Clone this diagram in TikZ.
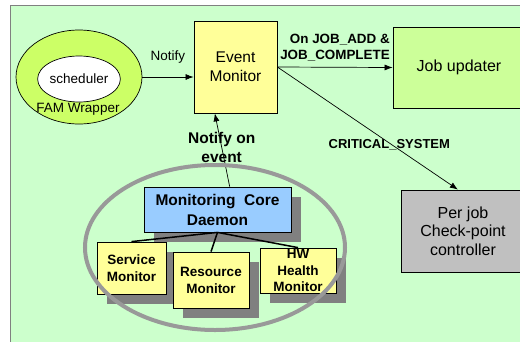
\documentclass[tikz,border=0pt]{standalone}
\usepackage{fontspec}
\setmainfont{Liberation Sans}
\usepackage{xcolor}
\usepackage{tikz}
\usetikzlibrary{shapes.geometric, arrows.meta, shadows}
\definecolor{bggreen}{RGB}{204,255,204}
\definecolor{famgreen}{RGB}{204,255,102}
\definecolor{jobgreen}{RGB}{204,255,153}
\definecolor{paleyellow}{RGB}{255,255,153}
\definecolor{coreblue}{RGB}{153,204,255}
\definecolor{ckgray}{RGB}{192,192,192}
\definecolor{shadowgray}{RGB}{128,128,128}
\definecolor{ringgray}{RGB}{153,153,153}

\begin{document}
\begin{tikzpicture}[x=1pt, y=-1pt,
    bx/.style={rectangle, draw=black, line width=0.8pt, inner sep=0pt, align=center},
    big/.style={font=\fontsize{15.5}{19}\selectfont},
    shd/.style={drop shadow={shadow xshift=10pt, shadow yshift=-10pt, fill=shadowgray, opacity=1}},
    mon/.style={bx, fill=paleyellow, shd, font=\bfseries\fontsize{13.5}{17}\selectfont},
    oval/.style={ellipse, draw=black, line width=0.7pt, inner sep=0pt},
    arr/.style={-{Latex[length=8pt, width=6pt]}, line width=0.7pt},
    tree/.style={line width=1.5pt},
    lbl/.style={inner sep=0pt, align=center, font=\fontsize{13.5}{16}\selectfont},
    blbl/.style={inner sep=0pt, align=center, font=\bfseries\fontsize{13.4}{16}\selectfont}
]
\useasboundingbox (0,0) rectangle (520,341);

\fill[bggreen] (10,5) rectangle (530,350);
\draw[shadowgray, line width=1pt] (10,350) -- (10,5) -- (530,5);

\node[oval, fill=famgreen, minimum width=126pt, minimum height=94pt] (fam) at (79,77) {};
\node[oval, fill=white, minimum width=78pt, minimum height=46pt, lbl] (sched) at (79,79) {scheduler};
\node[lbl] (famlbl) at (78,109.5) {FAM Wrapper};

\node[bx, big, fill=paleyellow, minimum width=83pt, minimum height=92pt] (em) at (235.5,67) {Event\\Monitor};
\node[bx, fill=jobgreen, minimum width=132pt, minimum height=81pt, font=\fontsize{16}{19}\selectfont] (jobupd) at (459,67.5) {Job updater};
\node[bx, fill=ckgray, minimum width=124pt, minimum height=82pt, font=\fontsize{16}{18.5}\selectfont] (ckpt) at (463,231) {Per job\\Check-point\\controller};

\node[bx, fill=coreblue, shd, minimum width=147pt, minimum height=45pt, font=\bfseries\fontsize{15.5}{20}\selectfont] (mcd) at (217.5,209.5) {Monitoring\ \ Core\\Daemon};
\node[mon, minimum width=69pt, minimum height=52pt] (svc) at (131.5,268) {Service\\Monitor};
\node[mon, minimum width=76pt, minimum height=56pt] (res) at (211,280) {Resource\\Monitor};
\node[mon, minimum width=76pt, minimum height=45pt, font=\bfseries\fontsize{13.5}{16.5}\selectfont] (hw) at (298,270.5) {HW\\Health\\Monitor};

\draw[arr] (fam.east) -- (fam.east -| em.west) node[midway, above=13pt, lbl]{Notify};
\draw[arr] (em.east) -- (jobupd.west) node[midway, above=6pt, blbl, align=right]{On JOB\_ADD \&\\JOB\_COMPLETE};
\draw[arr] (em.east) -- (ckpt.97) node[pos=0.62, yshift=-2pt, blbl, font=\bfseries\fontsize{13}{16}\selectfont]{CRITICAL\_SYSTEM};
\draw[arr] (mcd.62) -- (em.-114) node[pos=0.54, blbl, font=\bfseries\fontsize{15.5}{19}\selectfont]{Notify on\\event};

\draw[tree] (mcd.south) -- (svc.north);
\draw[tree] (mcd.south) -- (res.north);
\draw[tree] (mcd.south) -- (hw.north);

\draw[ringgray, line width=4pt] (215,247.5) ellipse [x radius=130pt, y radius=82.5pt];
\end{tikzpicture}
\end{document}
